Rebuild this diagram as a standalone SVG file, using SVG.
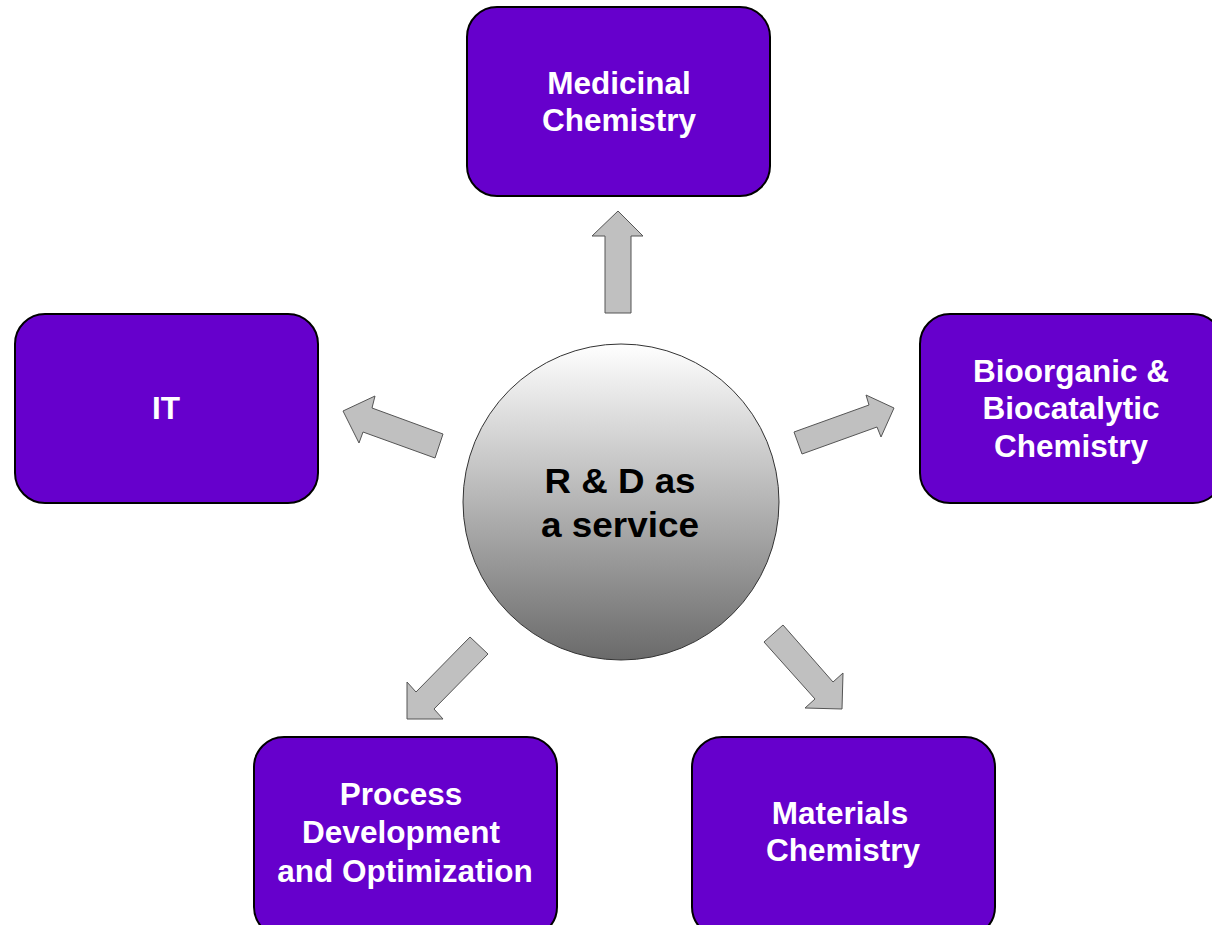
<svg xmlns="http://www.w3.org/2000/svg" width="1212" height="925" viewBox="0 0 1212 925">
<style>
.box{fill:#6600CC;stroke:#000;stroke-width:2}
.lbl{font-family:"Liberation Sans",Arial,sans-serif;font-weight:bold;font-size:31.5px;fill:#fff;text-anchor:middle}
.ctr{font-family:"Liberation Sans",Arial,sans-serif;font-weight:bold;font-size:35px;fill:#000;text-anchor:middle}
.arr{fill:#C0C0C0;stroke:#555;stroke-width:1}
</style>
<defs>
<linearGradient id="g" x1="0" y1="0" x2="0" y2="1">
<stop offset="0" stop-color="#FFFFFF"/>
<stop offset="1" stop-color="#6A6A6A"/>
</linearGradient>
</defs>
<rect width="1212" height="925" fill="#fff"/>
<g id="connectors">
<polygon class="arr" points="605,313 605,236 592,236 618,211 643,236 631,236 631,313"/>
<polygon class="arr" points="443,434 372,408 375,396 343,411 359,443 363,432 435,458"/>
<polygon class="arr" points="794,432 869,405 866,395 894,408 881,437 877,427 802,454"/>
<polygon class="arr" points="470,637 416,692 407,682 407,719 443,719 434,709 488,654"/>
<polygon class="arr" points="783,625 833,682 843,673 842,709 805,708 815,699 764,642"/>
</g>
<g id="center">
<circle cx="621" cy="502" r="158" fill="url(#g)" stroke="#333" stroke-width="1"/>
<text class="ctr" x="620" y="493" textLength="151" lengthAdjust="spacingAndGlyphs">R &amp; D as</text>
<text class="ctr" x="620" y="537" textLength="158" lengthAdjust="spacingAndGlyphs">a service</text>
</g>
<g id="medicinal">
<rect class="box" x="467" y="7" width="303" height="189" rx="30"/>
<text class="lbl" x="619" y="94">Medicinal</text>
<text class="lbl" x="619" y="131">Chemistry</text>
</g>
<g id="it">
<rect class="box" x="15" y="314" width="303" height="189" rx="30"/>
<text class="lbl" x="166" y="419">IT</text>
</g>
<g id="bioorganic">
<rect class="box" x="920" y="314" width="303" height="189" rx="30"/>
<text class="lbl" x="1071" y="382">Bioorganic &amp;</text>
<text class="lbl" x="1071" y="419">Biocatalytic</text>
<text class="lbl" x="1071" y="457">Chemistry</text>
</g>
<g id="process">
<rect class="box" x="254" y="737" width="303" height="200" rx="30"/>
<text class="lbl" x="401" y="805">Process</text>
<text class="lbl" x="401" y="843">Development</text>
<text class="lbl" x="405" y="882">and Optimization</text>
</g>
<g id="materials">
<rect class="box" x="692" y="737" width="303" height="200" rx="30"/>
<text class="lbl" x="840" y="824">Materials</text>
<text class="lbl" x="843" y="861">Chemistry</text>
</g>
</svg>
